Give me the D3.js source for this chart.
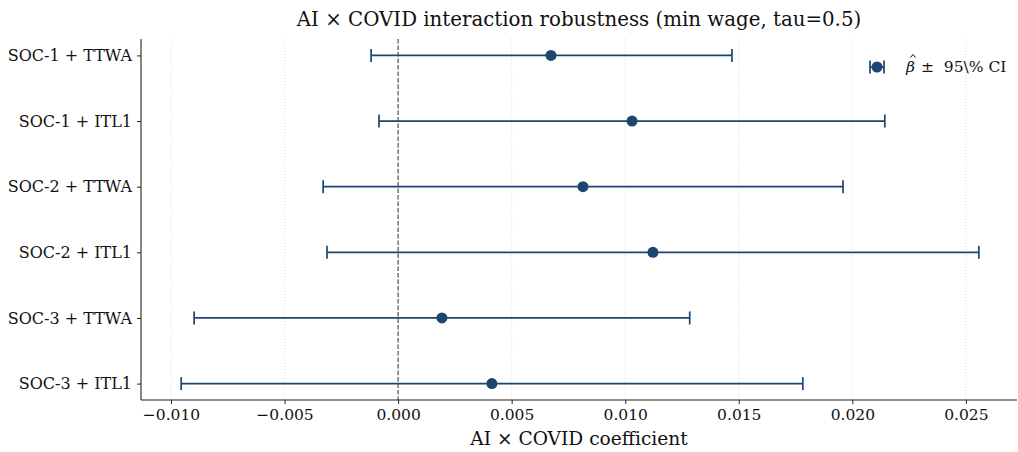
<!DOCTYPE html>
<html>
<head>
<meta charset="utf-8">
<script src="https://cdn.jsdelivr.net/npm/d3@7"></script>
<style>
	body { margin: 0; background: #fff; }
	svg text { font-family: 'DejaVu Serif', serif; fill: #111; }
</style>
</head>
<body>
<svg id="chart" width="1018" height="452"></svg>
<script>
// specifications, top to bottom
const specs = ['SOC-1 + TTWA', 'SOC-1 + ITL1', 'SOC-2 + TTWA', 'SOC-2 + ITL1', 'SOC-3 + TTWA', 'SOC-3 + ITL1'];
const estimates = [0.00673, 0.01030, 0.00814, 0.01122, 0.00193, 0.00413];
const ciLow = [-0.00119, -0.00084, -0.00330, -0.00313, -0.00898, -0.00955];
const ciHigh = [0.01470, 0.02143, 0.01959, 0.02557, 0.01284, 0.01782];
const xTicks = [-0.010, -0.005, 0.000, 0.005, 0.010, 0.015, 0.020, 0.025];

const color = '#1c4670';
const margin = { top: 39, right: 1, bottom: 52, left: 141 };
const width = 1018;
const height = 452;

const svg = d3.select('#chart');
const rows = specs.map((s, i) => ({ name: s, est: estimates[i], lo: ciLow[i], hi: ciHigh[i] }));

const xScale = d3.scaleLinear()
	.domain([-0.01132, 0.02725])
	.range([margin.left, width - margin.right]);

const yScale = d3.scalePoint()
	.domain(specs)
	.range([margin.top, height - margin.bottom])
	.padding(0.25);

// gridlines
svg.append('g')
	.selectAll('line')
	.data(xTicks)
	.join('line')
	.attr('x1', d => xScale(d))
	.attr('x2', d => xScale(d))
	.attr('y1', margin.top)
	.attr('y2', height - margin.bottom)
	.attr('stroke', '#d4d4d4')
	.attr('stroke-width', 0.8)
	.attr('stroke-dasharray', '1,2');

// zero line
svg.append('line')
	.attr('x1', xScale(0))
	.attr('x2', xScale(0))
	.attr('y1', margin.top)
	.attr('y2', height - margin.bottom)
	.attr('stroke', '#555')
	.attr('stroke-width', 1.2)
	.attr('stroke-dasharray', '4.5,2');

// error bars
const bars = svg.append('g').selectAll('g')
	.data(rows)
	.join('g')
	.attr('transform', d => `translate(0,${yScale(d.name)})`);

bars.append('line')
	.attr('x1', d => xScale(d.lo))
	.attr('x2', d => xScale(d.hi))
	.attr('stroke', color)
	.attr('stroke-width', 1.7);

bars.selectAll('.cap')
	.data(d => [d.lo, d.hi])
	.join('line')
	.attr('class', 'cap')
	.attr('x1', d => xScale(d))
	.attr('x2', d => xScale(d))
	.attr('y1', -6.5)
	.attr('y2', 6.5)
	.attr('stroke', color)
	.attr('stroke-width', 1.7);

bars.append('circle')
	.attr('cx', d => xScale(d.est))
	.attr('r', 5.5)
	.attr('fill', color);

// axes
const xAxis = svg.append('g')
	.attr('transform', `translate(0,${height - margin.bottom})`)
	.call(d3.axisBottom(xScale).tickValues(xTicks).tickSize(4).tickPadding(5)
		.tickFormat(d => d3.format('.3f')(d).replace('-', '\u2212')));

const yAxis = svg.append('g')
	.attr('transform', `translate(${margin.left},0)`)
	.call(d3.axisLeft(yScale).tickSize(4).tickPadding(5));

[xAxis, yAxis].forEach(ax => {
	ax.selectAll('.tick text')
		.attr('font-size', 15.5)
		.attr('font-family', "'DejaVu Serif', serif")
		.attr('fill', '#111');
	ax.selectAll('.tick line').attr('stroke', '#222');
	ax.select('.domain').attr('stroke', '#222').attr('stroke-width', 1.1);
});
yAxis.selectAll('.tick text').attr('font-size', 16);
yAxis.select('.domain').attr('d', `M0,${margin.top}V${height - margin.bottom}`);
xAxis.select('.domain').attr('d', `M${margin.left},0H${width - margin.right}`);

// title and axis label
svg.append('text')
	.attr('x', (margin.left + width - margin.right) / 2)
	.attr('y', 26)
	.attr('text-anchor', 'middle')
	.attr('font-size', 19.8)
	.text('AI \u00d7 COVID interaction robustness (min wage, tau=0.5)');

svg.append('text')
	.attr('x', (margin.left + width - margin.right) / 2)
	.attr('y', 445)
	.attr('text-anchor', 'middle')
	.attr('font-size', 18.6)
	.text('AI \u00d7 COVID coefficient');

// legend
const legend = svg.append('g').attr('transform', 'translate(877,67)');
legend.append('line').attr('x1', -7).attr('x2', 7).attr('stroke', color).attr('stroke-width', 1.7);
legend.selectAll('.cap').data([-7, 7]).join('line')
	.attr('x1', d => d).attr('x2', d => d).attr('y1', -6.5).attr('y2', 6.5)
	.attr('stroke', color).attr('stroke-width', 1.7);
legend.append('circle').attr('r', 5.5).attr('fill', color);
legend.append('text').attr('x', 29).attr('y', 5).attr('font-size', 15.5)
	.attr('font-style', 'italic').text('\u03b2');
// hat over beta
legend.append('path').attr('d', 'M33.5,-9.5L36,-12.5L38.5,-9.5')
	.attr('fill', 'none').attr('stroke', '#111').attr('stroke-width', 1);
legend.append('text').attr('x', 44).attr('y', 5).attr('font-size', 15.5)
	.attr('xml:space', 'preserve').text('\u00b1  95\\% CI');
</script>
</body>
</html>
